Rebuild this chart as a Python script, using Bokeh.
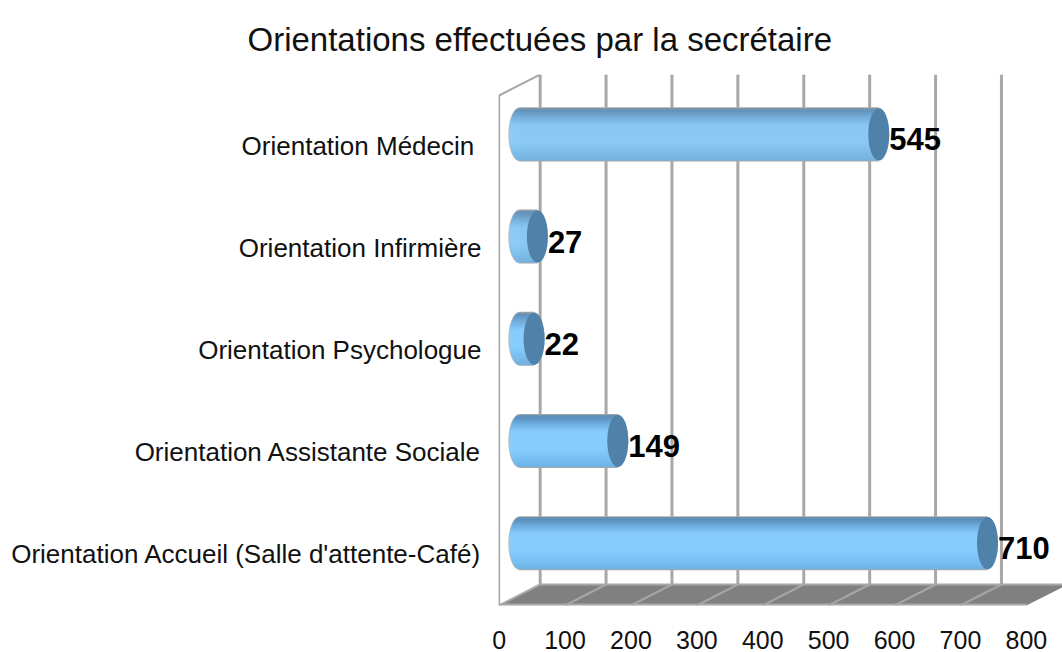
import numpy as np
from bokeh.plotting import figure
from bokeh.models import Range1d, FixedTicker, Title
from bokeh.core.properties import value
from bokeh.embed import file_html
from bokeh.resources import INLINE

# --- data ---
categories = ["Orientation Accueil (Salle d'attente-Café)", "Orientation Assistante Sociale",
              "Orientation Psychologue", "Orientation Infirmière", "Orientation Médecin "]
values = [710, 149, 22, 27, 545]
x_ticks = [0, 100, 200, 300, 400, 500, 600, 700, 800]
title_text = "Orientations effectuées par la secrétaire"

# --- layout constants ---
FONT = "Liberation Sans"
PX_X, PX_Y = 0.659, 102.2           # pixels per x unit / per category
FRAME_W, FRAME_H = 564, 531
DX, DY = 41 / PX_X, 21 / PX_Y       # 3D depth in data units
BASE_X, BAR_DY = 31.0, 0.11         # cylinder position in the depth
BAR_H_PX, CAP_PX = 52, 10.5
GRID, EDGE, FLOOR = "#a8a8a8", "#a8a8a8", "#808080"
CAP = "#4f81a9"
STOPS_T = [0.0, 0.05, 0.15, 0.33, 0.65, 0.9, 1.0]
STOPS_RGB = [(0x6f, 0x93, 0xae), (0x5a, 0x8f, 0xbc), (0x69, 0xa8, 0xda), (0x86, 0xcc, 0xfd),
             (0x87, 0xce, 0xff), (0x74, 0xbb, 0xee), (0x6f, 0xb2, 0xe4)]

y_start = -0.5
y_end = y_start + FRAME_H / PX_Y
y_floor_back = y_start + DY
y_wall_top = y_end - DY

p = figure(frame_width=FRAME_W, frame_height=FRAME_H, output_backend="svg", toolbar_location=None,
           x_range=Range1d(-1, -1 + FRAME_W / PX_X), y_range=Range1d(y_start, y_end),
           min_border_left=498, min_border_right=0, min_border_top=74, min_border_bottom=47,
           background_fill_color="white", border_fill_color="white", outline_line_color=None)
p.grid.visible = False

# axes
xa, ya = p.xaxis[0], p.yaxis[0]
xa.ticker = FixedTicker(ticks=x_ticks)
xa.major_label_text_font = FONT
xa.major_label_text_font_size = "25px"
xa.major_label_text_color = "#111111"
xa.major_label_standoff = 25
xa.major_tick_out = 0
xa.major_tick_in = 0
xa.axis_line_color = None
xa.major_tick_line_color = None
xa.minor_tick_line_color = None

ya.ticker = FixedTicker(ticks=list(range(len(categories))))
ya.major_label_overrides = {i: c for i, c in enumerate(categories)}
ya.major_label_text_font = FONT
ya.major_label_text_font_size = "26px"
ya.major_label_text_color = "#111111"
ya.major_label_standoff = 17
ya.major_tick_out = 0
ya.major_tick_in = 0
ya.axis_line_color = None
ya.major_tick_line_color = None
ya.minor_tick_line_color = None

# title
t = Title(text=title_text, align="left", offset=-251, standoff=34, text_font=FONT,
          text_font_size="33px", text_font_style="normal", text_color="#111111")
p.title = t

# back gridlines
back = [v for v in x_ticks if v < 800]
p.segment([v + DX for v in back], y_floor_back, [v + DX for v in back], y_end,
          line_color=GRID, line_width=3)

# floor
p.patch([0, x_ticks[-1], x_ticks[-1] + DX + 1, DX],
        [y_start, y_start, y_floor_back, y_floor_back], fill_color=FLOOR, line_color=None)
p.segment(back[1:], y_start, [v + DX for v in back[1:]], y_floor_back, line_color="#a6a6a6", line_width=2)
p.segment(DX, y_floor_back, x_ticks[-1] + DX, y_floor_back, line_color=EDGE, line_width=2)
p.segment(0, y_start + 0.01, x_ticks[-1], y_start + 0.01, line_color=EDGE, line_width=2)

# left wall
p.line([DX, 0, 0, DX], [y_floor_back, y_start, y_wall_top, y_end], line_color=EDGE, line_width=2)

# cylinders: horizontal stripes follow the rounded outline, the stripes carry the shading
h = BAR_H_PX / PX_Y
cap_a = CAP_PX / PX_X
rows = BAR_H_PX
ts = (np.arange(rows) + 0.5) / rows
colors = []
for tv in ts:
    rgb = [int(round(np.interp(tv, STOPS_T, [s[k] for s in STOPS_RGB]))) for k in range(3)]
    colors.append("#%02x%02x%02x" % tuple(rgb))
half = np.sqrt(np.clip(1 - (2 * ts - 1) ** 2, 0, 1))
row_h = h / rows

ys = [i + BAR_DY for i in range(len(values))]
# soft outline
p.ellipse(BASE_X, ys, width=2 * cap_a + 2.5, height=h + 0.02, fill_color="#bdbdbd", line_color=None)
p.hbar(y=ys, left=BASE_X, right=[BASE_X + v for v in values], height=h + 0.02, fill_color="#a9a9a9", line_color=None)
for i, v in enumerate(values):
    yy = ys[i] + h / 2 - (np.arange(rows) + 0.5) * row_h
    p.hbar(y=yy, left=BASE_X - cap_a * half, right=BASE_X + v + cap_a * half, height=row_h * 1.25,
           fill_color=colors, line_color=None)
p.ellipse([BASE_X + v for v in values], ys, width=2 * cap_a, height=h,
          fill_color=CAP, line_color=None)

# value labels
p.text([BASE_X + v for v in values], ys, text=[str(v) for v in values], x_offset=CAP_PX, y_offset=5,
       text_font=value(FONT), text_font_style="bold", text_font_size="31px",
       text_align="left", text_baseline="middle", text_color="#000000")

open("out.html", "w").write(file_html(p, INLINE))
